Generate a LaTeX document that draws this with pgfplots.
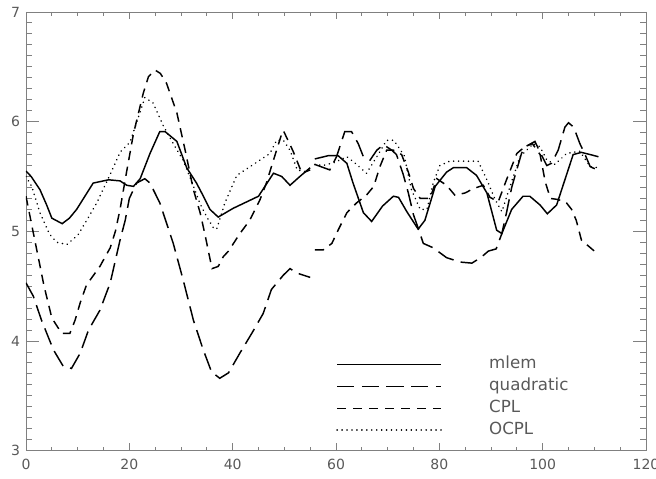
\documentclass[border=0pt]{standalone}
\usepackage{fontspec}
\setmainfont{DejaVu Sans}
\usepackage{pgfplots}
\usepackage{pgfplotstable}
\pgfplotsset{compat=1.18}
\definecolor{axisgray}{gray}{0.5}
\definecolor{textgray}{gray}{0.35}

% profiles, two segments split by a nan row
\pgfplotstableread{
x y
0 5.55
1 5.50
2.7 5.38
4 5.24
5 5.12
7 5.07
8.4 5.12
9.8 5.20
13 5.44
16 5.47
18.2 5.46
19.5 5.42
20.8 5.41
22.1 5.48
24 5.71
25.9 5.91
26.9 5.91
29.2 5.82
31.1 5.58
33 5.44
34 5.35
35.6 5.20
37.2 5.13
40.1 5.21
45 5.32
47.9 5.53
49.5 5.50
51.1 5.42
53 5.50
55 5.58
55.5 nan
55.9 5.66
58.5 5.69
60.4 5.69
62.1 5.62
63.3 5.44
65.3 5.17
66.9 5.09
69 5.23
71.1 5.32
72.1 5.31
73.7 5.18
75.9 5.02
77.2 5.10
79.2 5.41
81.4 5.54
82.7 5.58
85.3 5.58
87.2 5.51
89.2 5.35
91.1 5.01
92.1 4.98
94 5.20
96.2 5.32
97.5 5.32
99.5 5.24
100.9 5.16
102.7 5.24
104.3 5.47
105.9 5.70
107.5 5.72
109.2 5.70
110.8 5.68
}\mlem

\pgfplotstableread{
x y
0 4.53
1.4 4.41
3 4.19
5.3 3.92
7.2 3.77
8.8 3.75
10.5 3.89
12.1 4.10
14.3 4.28
16.3 4.53
18.2 4.92
19.2 5.10
20 5.30
21.4 5.44
23 5.48
24 5.44
25.9 5.26
28.5 4.89
30.4 4.56
32.4 4.19
34.3 3.92
35.9 3.72
37.5 3.66
39.2 3.71
41.4 3.89
43.7 4.07
45.9 4.25
47.5 4.47
49.8 4.60
51.1 4.66
52.4 4.62
55 4.58
55.5 nan
55.9 5.61
58.8 5.56
60.1 5.68
61.7 5.91
63 5.91
64.3 5.80
65.3 5.68
66.6 5.65
67.9 5.74
69.2 5.79
70.8 5.74
71.7 5.70
73 5.52
74 5.35
75 5.15
75.9 5.03
76.9 4.89
78.8 4.85
81.4 4.76
84 4.72
86.3 4.71
88 4.76
89.5 4.82
91 4.84
92.1 4.98
93 5.17
94 5.40
95.9 5.71
96.6 5.77
98.5 5.82
99.5 5.72
100.8 5.60
101.7 5.62
103 5.74
104.3 5.95
105 5.99
106 5.95
107.2 5.80
108.2 5.70
109.2 5.59
111 5.55
}\quadratic

\pgfplotstableread{
x y
0 5.32
1.4 4.99
3.5 4.50
5 4.21
6.9 4.07
8.5 4.07
9.5 4.19
10.5 4.35
11.7 4.51
14.3 4.68
16.3 4.85
17.3 5.00
18.2 5.20
19.5 5.55
20.8 5.89
22.7 6.26
23.7 6.41
25 6.47
26 6.44
27.2 6.35
29.2 6.08
30.8 5.74
32.4 5.38
33.7 5.17
34.6 4.98
35.3 4.82
36 4.66
37.2 4.68
38.2 4.77
39.2 4.82
41.4 4.98
43.3 5.10
45.3 5.29
46.6 5.45
47.5 5.59
49.5 5.89
49.8 5.92
51.7 5.73
53.4 5.53
55 5.56
55.5 nan
55.9 4.83
57.5 4.83
59.2 4.89
60.4 5.01
62.1 5.17
64 5.26
65.9 5.33
67.3 5.41
68.5 5.59
69.8 5.74
71.1 5.74
72.7 5.70
74 5.54
75 5.39
76.3 5.30
78.2 5.30
79.5 5.48
81.4 5.42
83 5.33
85 5.35
86.6 5.39
88.5 5.42
89.8 5.31
91.4 5.27
93 5.47
94 5.59
95 5.71
96.5 5.77
98 5.80
99.5 5.70
100.5 5.45
101.5 5.30
103 5.29
104.6 5.26
105.6 5.20
106.5 5.10
107.5 4.92
109 4.86
110.5 4.80
}\cpl

\pgfplotstableread{
x y
0 5.50
1.1 5.41
2.7 5.17
4.6 4.97
6 4.90
7.9 4.88
10.1 4.97
12 5.12
13.7 5.26
16.3 5.52
18.2 5.72
20.1 5.81
21.4 5.99
23 6.22
24.6 6.17
26.6 5.96
28.5 5.80
30.4 5.65
32.1 5.45
33.7 5.25
35 5.13
36.3 5.03
36.9 5.02
38.5 5.26
40.8 5.51
45.3 5.65
47.2 5.71
48.5 5.83
49.8 5.83
51.1 5.74
52.5 5.56
54.5 5.54
55.5 nan
55.9 5.61
57.5 5.60
59.8 5.63
62.1 5.68
64 5.61
65.9 5.53
67.9 5.68
69.8 5.83
71.2 5.83
73.2 5.69
74.6 5.38
76.3 5.20
77.6 5.20
78.8 5.44
80.1 5.60
82 5.64
87.5 5.64
89.2 5.47
90.8 5.29
92.1 5.18
93.7 5.41
95.6 5.68
98.2 5.80
99.5 5.77
100.8 5.65
102.4 5.61
104.6 5.71
107.2 5.73
109.2 5.59
110.8 5.58
}\ocpl

\pgfplotsset{
    idl/.style={
        scale only axis,
        width=465pt,
        height=329pt,
        xmin=0, xmax=120,
        ymin=3, ymax=7,
        axis line style={axisgray, line width=0.7pt},
        tick style={axisgray, line width=0.7pt},
        tick align=inside,
        tick label style={font=\fontsize{10.5}{12}\selectfont, text=textgray},
        /pgf/number format/assume math mode=true,
    },
}

\begin{document}
\begin{tikzpicture}
    % y ticks (longer ticks, as in the original)
    \begin{axis}[
            idl,
            hide x axis,
            ytick={3,4,5,6,7},
            minor y tick num=9,
            major tick length=9.4pt,
            minor tick length=4.5pt,
            yticklabel style={xshift=-1pt},
        ]
    \end{axis}
    \begin{axis}[
            idl,
            name=ax,
            xtick={0,20,...,120},
            minor x tick num=3,
            ytick=\empty,
            major tick length=5.6pt,
            minor tick length=3pt,
            xticklabel style={yshift=-3pt},
            unbounded coords=jump,
            legend cell align=left,
            legend image code/.code={
                \draw[#1] (0pt,0pt) -- (78pt,0pt);
                \path[draw=none] (0pt,0pt) -- (114pt,0pt);
            },
            legend style={
                draw=none, fill=none,
                at={(axis cs:60,3.86)}, anchor=north west,
                inner sep=0pt,
                row sep=5pt,
                font=\fontsize{12.5}{14}\selectfont,
                text=textgray,
                nodes={inner sep=0pt, text height=9pt, text depth=2.5pt},
            },
        ]
        \addplot[black, line width=1.1pt] table {\mlem};
        \addlegendentry{mlem}
        \addplot[black, line width=1.1pt, dash pattern=on 13pt off 5.5pt] table {\quadratic};
        \addlegendentry{quadratic}
        \addplot[black, line width=1.1pt, dash pattern=on 7pt off 5pt] table {\cpl};
        \addlegendentry{CPL}
        \addplot[black, line width=1.3pt, dash pattern=on 0.01pt off 3.7pt, line cap=round] table {\ocpl};
        \addlegendentry{OCPL}
    \end{axis}
    \pgfresetboundingbox
    \path ([xshift=-19.5pt, yshift=-20.5pt]ax.south west)
        rectangle ([xshift=7.5pt, yshift=9pt]ax.north east);
\end{tikzpicture}
\end{document}
